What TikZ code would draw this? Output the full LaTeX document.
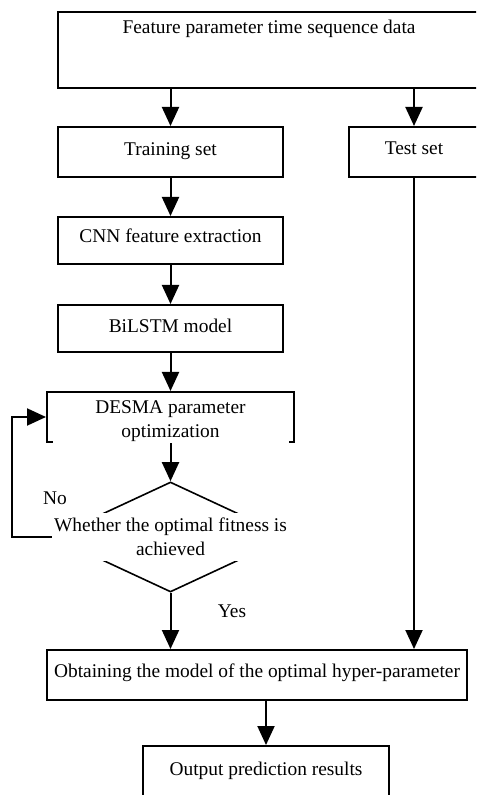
\documentclass[tikz,border=0pt]{standalone}
\usepackage{fontspec}
\setmainfont{Liberation Serif}
\usetikzlibrary{arrows.meta,shapes.geometric}

\tikzset{
  box/.style={draw, line width=1pt, minimum height=25pt, inner sep=0pt},
  flow/.style={line width=1pt, -{Triangle[width=8.5pt,length=9.5pt]}},
  cover/.style={fill=white, align=center, inner xsep=3pt, inner ysep=2.5pt},
}

\begin{document}
\begin{tikzpicture}[x=0.5pt,y=-0.5pt,font=\fontsize{9.7}{12}\selectfont]
  \useasboundingbox (0,0) rectangle (476,795);
  \clip (0,0) rectangle (476,795);

  % boxes
  \node[box, minimum width=211pt, minimum height=38pt, text height=11pt, text depth=27pt] (src) at (269,50) {Feature parameter time sequence data\hspace{8pt}};
  \node[box, minimum width=112.5pt, text depth=3pt] (train) at (170.5,152) {Training set};
  \node[box, minimum width=65pt, text depth=4pt] (test) at (414,152) {Test set};
  \node[box, minimum width=112.5pt, minimum height=23.5pt, text depth=5pt] (cnn) at (170.5,240.5) {CNN feature extraction};
  \node[box, minimum width=112.5pt, minimum height=23.5pt, text depth=3pt] (bilstm) at (170.5,328.5) {BiLSTM model};
  \node[box, minimum width=123.5pt, label={[cover, minimum width=118pt, yshift=-2pt]center:DESMA parameter\\optimization}] (desma) at (170.5,417) {};
  \node[draw, diamond, line width=0.8pt, minimum width=118pt, minimum height=55pt, inner sep=0pt,
        label={[cover]center:Whether the optimal fitness is\\achieved}] (dec) at (170.5,537) {};
  \node[box, minimum width=210pt, text depth=4pt] (final) at (257,675) {Obtaining the model of the optimal hyper-parameter};
  \node[box, minimum width=123pt, text depth=2pt] (out) at (266,771) {Output prediction results};

  % labels
  \node (no) at (55,498) {No};
  \node (yes) at (232,611) {Yes};

  % arrows
  \draw[flow] (src.south -| train.north) -- (train.north);
  \draw[flow] (src.south -| test.north) -- (test.north);
  \draw[flow] (train) -- (cnn);
  \draw[flow] (cnn) -- (bilstm);
  \draw[flow] (bilstm) -- (desma);
  \draw[flow] (desma.south) -- (dec.north);
  \draw[flow] (dec.west) -- ++(-40,0) |- (desma.west);
  \draw[flow] (dec.south) -- (dec.south |- final.north);
  \draw[flow] (test.south) -- (test.south |- final.north);
  \draw[flow] (final.south -| out.north) -- (out.north);
\end{tikzpicture}
\end{document}
